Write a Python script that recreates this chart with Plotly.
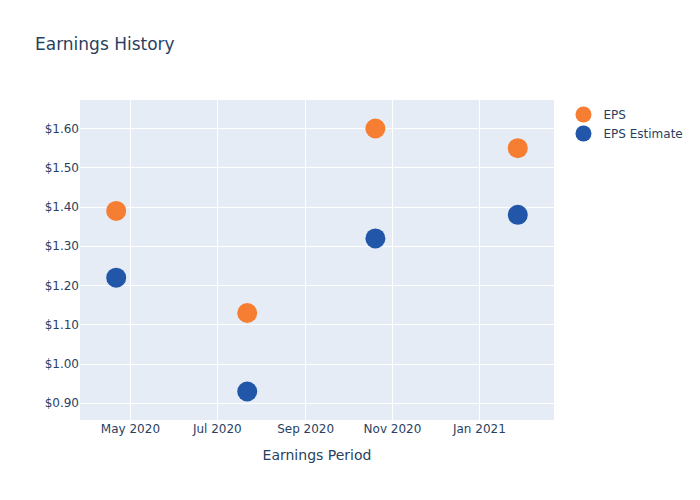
import plotly.graph_objects as go

periods = ["2020-04-21", "2020-07-22", "2020-10-20", "2021-01-28"]
eps = [1.39, 1.13, 1.60, 1.55]
eps_estimate = [1.22, 0.93, 1.32, 1.38]

fig = go.Figure()
fig.add_trace(go.Scatter(x=periods, y=eps, mode="markers", name="EPS",
                         marker=dict(size=20, color="#F67E33")))
fig.add_trace(go.Scatter(x=periods, y=eps_estimate, mode="markers", name="EPS Estimate",
                         marker=dict(size=20, color="#2256A8")))
fig.update_layout(
    width=700, height=500,
    font=dict(family="DejaVu Sans"),
    title=dict(text="Earnings History"),
    xaxis=dict(title=dict(text="Earnings Period")),
    yaxis=dict(tickformat="$.2f"),
    template="plotly",
)
fig.write_html("out.html", config={"displayModeBar": False},
               post_script="document.body.style.margin='0';")
